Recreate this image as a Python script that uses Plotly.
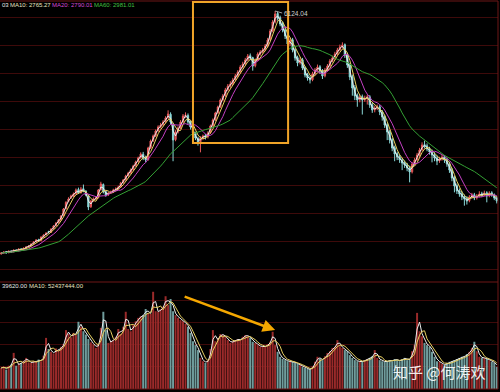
import plotly.graph_objects as go
import pandas as pd

# ---- price candles (index points), one candle ~ 2.5 sessions of the original ----
opens = [1750,1770,1790,1772,1800,1790,1820,1808,1842,1826,
         1860,1878,1898,1934,1970,2006,1990,2060,2098,2150,
         2140,2204,2258,2312,2366,2440,2570,2700,2765,2790,
         2836,2910,2852,2925,2880,2800,2600,2710,2746,2764,
         2908,3000,2870,2815,2852,2870,2906,2924,2960,3032,
         3088,3160,3212,3268,3340,3410,3484,3545,3470,3448,
         3665,3790,3880,3970,4040,4078,4132,4204,4265,4080,
         3810,3950,4024,4130,4240,4245,4120,4030,3920,3830,
         3770,3844,3880,3860,3934,4060,4168,4294,4400,4528,
         4600,4708,4780,4815,4888,4960,5030,5122,5176,5248,
         5320,5284,5140,5248,5356,5390,5428,5500,5608,5770,
         5930,6080,6005,5895,5786,5680,5535,5606,5428,5284,
         5192,5246,5104,4978,4922,4886,4994,5068,5120,5050,
         4958,5068,5140,5230,5284,5356,5428,5482,5518,5338,
         5158,4942,4744,4600,4526,4582,4526,4562,4580,4438,
         4346,4382,4400,4310,4220,4078,3950,3808,3664,3556,
         3500,3446,3392,3356,3302,3230,3374,3446,3536,3626,
         3718,3698,3644,3590,3536,3482,3428,3464,3500,3446,
         3374,3266,3122,2980,2890,2836,2782,2746,2710,2780,
         2816,2762,2798,2834,2816,2852,2798,2852,2816,2762]
highs = [1780,1795,1802,1812,1815,1830,1834,1852,1856,1866,
         1888,1905,1942,1980,2018,2024,2066,2105,2140,2168,
         2212,2270,2322,2380,2450,2578,2700,2772,2818,2856,
         2930,2945,2958,3000,2900,2820,2720,2768,2790,2920,
         3050,3020,2895,2870,2890,2925,2950,2980,3048,3100,
         3176,3230,3290,3356,3430,3502,3580,3588,3520,3680,
         3810,3900,3990,4066,4110,4160,4230,4336,4300,4110,
         3980,4050,4160,4270,4300,4280,4150,4060,3950,3860,
         3870,3900,3910,3960,4080,4190,4310,4420,4550,4630,
         4740,4810,4860,4920,4990,5060,5150,5210,5280,5350,
         5360,5300,5270,5380,5420,5460,5530,5640,5800,5960,
         6124.04,6110,6040,5930,5820,5720,5650,5640,5460,5320,
         5290,5280,5130,5010,4960,5030,5100,5160,5150,5080,
         5100,5170,5260,5320,5390,5460,5520,5560,5540,5370,
         5190,4980,4790,4640,4620,4620,4600,4620,4610,4470,
         4420,4440,4430,4340,4250,4110,3980,3840,3700,3590,
         3540,3480,3430,3390,3340,3400,3480,3570,3660,3760,
         3790,3740,3680,3630,3580,3520,3500,3540,3530,3480,
         3410,3300,3160,3020,2930,2880,2820,2790,2810,2850,
         2850,2830,2880,2870,2890,2880,2880,2880,2840,2790]
lows = [1742,1762,1760,1765,1778,1782,1796,1800,1812,1818,
        1850,1868,1888,1922,1960,1970,1980,2046,2085,2120,
        2128,2190,2244,2298,2350,2428,2552,2680,2740,2772,
        2818,2830,2838,2862,2790,2540,2580,2690,2722,2750,
        2890,2840,2780,2796,2830,2852,2884,2906,2944,3016,
        3070,3140,3194,3248,3320,3392,3466,3440,3400,3430,
        3640,3766,3856,3944,4010,4050,4106,4180,4080,3420,
        3780,3920,4000,4104,4200,4090,3990,3890,3800,3700,
        3580,3800,3810,3830,3910,4036,4140,4270,4380,4500,
        4570,4680,4740,4790,4860,4930,5000,5090,5150,5220,
        5240,5050,5110,5220,5320,5360,5400,5470,5580,5740,
        5900,5950,5850,5740,5620,5420,5490,5380,5230,5130,
        5160,5060,4930,4870,4820,4860,4960,5040,4990,4900,
        4930,5040,5110,5200,5250,5320,5400,5450,5280,5100,
        4880,4600,4520,4400,4480,4260,4490,4440,4380,4290,
        4300,4340,4250,4150,4020,3800,3740,3600,3420,3440,
        3390,3260,3300,3240,3040,3200,3340,3420,3500,3600,
        3650,3600,3540,3400,3420,3350,3390,3430,3390,3320,
        3210,3060,2860,2830,2780,2720,2620,2640,2680,2750,
        2720,2730,2770,2780,2790,2680,2770,2780,2720,2660]
closes = [1768,1786,1768,1804,1786,1822,1804,1840,1822,1858,
          1876,1894,1930,1966,2002,1984,2056,2092,2128,2146,
          2200,2254,2308,2362,2434,2560,2680,2740,2794,2830,
          2902,2848,2920,2884,2812,2596,2704,2740,2758,2902,
          3010,2866,2812,2848,2866,2902,2920,2956,3028,3082,
          3154,3208,3262,3334,3406,3478,3550,3478,3442,3658,
          3784,3874,3964,4036,4072,4126,4198,4270,4126,3802,
          3946,4018,4126,4234,4252,4126,4036,3928,3838,3766,
          3838,3874,3856,3928,4054,4162,4288,4396,4522,4594,
          4702,4774,4810,4882,4954,5026,5116,5170,5242,5314,
          5278,5134,5242,5350,5386,5422,5494,5602,5764,5926,
          6070,5998,5890,5782,5674,5530,5602,5422,5278,5188,
          5242,5098,4972,4918,4882,4990,5062,5116,5044,4954,
          5062,5134,5224,5278,5350,5422,5476,5512,5332,5152,
          4936,4738,4594,4522,4576,4522,4558,4576,4432,4342,
          4378,4396,4306,4216,4072,3946,3802,3658,3550,3496,
          3442,3388,3352,3298,3226,3370,3442,3532,3622,3712,
          3694,3640,3586,3532,3478,3424,3460,3496,3442,3370,
          3262,3118,2974,2884,2830,2776,2740,2704,2776,2812,
          2758,2794,2830,2812,2848,2794,2848,2812,2758,2704]
# volume, millions of shares
volumes = [38,40,35,42,44,65,42,46,47,51,
           56,48,47,50,49,53,50,60,92,72,
           67,64,73,70,76,81,106,99,93,101,
           97,121,112,104,98,90,84,80,74,81,
           110,139,106,83,86,88,94,108,99,112,
           139,108,104,115,122,128,131,133,144,137,
           135,175,140,139,144,148,167,151,162,140,
           133,128,124,122,117,112,101,86,79,70,
           56,50,47,52,72,106,86,92,99,97,
           94,88,83,86,88,90,88,94,97,95,
           92,85,83,79,76,77,76,81,85,103,
           79,67,58,54,52,50,49,49,47,45,
           43,40,38,36,34,41,49,58,54,52,
           59,65,68,74,76,88,77,74,70,68,
           61,56,52,50,49,50,52,54,56,59,
           70,56,52,50,49,50,52,50,54,52,
           50,54,56,52,54,68,79,137,104,95,
           83,79,76,67,58,50,49,45,43,47,
           49,50,52,54,56,58,58,63,67,74,
           85,68,58,56,56,54,52,49,47,40]

assert len(opens) == len(highs) == len(lows) == len(closes) == len(volumes) == 200

# header labels (as shown on the chart)
price_labels = [("03", "#e6e6e6", 0), ("MA10: 2765.27", "#e8e2c0", 8),
                ("MA20: 2790.01", "#d448d4", 50), ("MA60: 2981.01", "#40c040", 92)]
vol_labels = [("39620.00", "#e6e6e6", 0), ("MA10: 52437444.00", "#e8e2c0", 27)]

# moving averages: each candle ~2.5 sessions, so MA5/10/20/60 -> 2/4/8/24 candles
price_mas = [(2, "#ececec"), (4, "#e8d060"), (8, "#c440c4"), (24, "#34a034")]
vol_mas = [(2, "#ececec"), (4, "#e8d060")]

idx = list(range(len(closes)))
cs = pd.Series(closes, dtype=float)
vs = pd.Series(volumes, dtype=float)

fig = go.Figure()
fig.add_trace(go.Candlestick(
    x=idx, open=opens, high=highs, low=lows, close=closes,
    increasing=dict(line=dict(color="#e85a5a", width=1), fillcolor="#c84848"),
    decreasing=dict(line=dict(color="#8ad8d8", width=1), fillcolor="#8ad8d8"),
    whiskerwidth=0, xaxis="x", yaxis="y", hoverinfo="skip"))
for w, col in price_mas:
    fig.add_trace(go.Scatter(x=idx, y=cs.rolling(w, min_periods=1).mean(), mode="lines",
                             line=dict(color=col, width=1), xaxis="x", yaxis="y"))

vcolors = ["#9a2a2a" if c >= o else "#6f9c9c" for o, c in zip(opens, closes)]
fig.add_trace(go.Bar(x=idx, y=volumes, marker=dict(color=vcolors, line=dict(width=0)),
                     xaxis="x2", yaxis="y2"))
for w, col in vol_mas:
    fig.add_trace(go.Scatter(x=idx, y=vs.rolling(w, min_periods=1).mean(), mode="lines",
                             line=dict(color=col, width=1), xaxis="x2", yaxis="y2"))

W, H = 500, 392
ML, MR, MT, MB = 0, 2, 1, 3
pw, ph = W - ML - MR, H - MT - MB
def px_x(p):
    return (p - ML) / pw
def px_y(p):
    return (H - MB - p) / ph

price_bottom = px_y(282)
vol_top = px_y(284)
xr = [-0.5, len(closes) - 0.5]

fig.update_layout(
    width=W, height=H, margin=dict(l=ML, r=MR, t=MT, b=MB),
    paper_bgcolor="black", plot_bgcolor="black", showlegend=False, bargap=0.2,
    xaxis=dict(domain=[0, 1], range=xr, anchor="y", showticklabels=False, showgrid=False,
               zeroline=False, rangeslider=dict(visible=False), fixedrange=True),
    xaxis2=dict(domain=[0, 1], range=xr, anchor="y2", showticklabels=False, showgrid=False,
                zeroline=False),
    yaxis=dict(domain=[price_bottom, 1], range=[1246, 6304], showticklabels=False,
               showgrid=True, gridcolor="#3e0a0a", gridwidth=1, tick0=6016, dtick=504,
               zeroline=False),
    yaxis2=dict(domain=[0, vol_top], range=[0, 189], showticklabels=False,
                showgrid=True, gridcolor="#3e0a0a", gridwidth=1, tick0=0, dtick=40,
                zeroline=False),
)

border = "#6e1616"
shapes = [
    dict(type="line", xref="paper", yref="paper", x0=0, x1=1, y0=1, y1=1, line=dict(color=border, width=1)),
    dict(type="line", xref="paper", yref="paper", x0=0, x1=1, y0=price_bottom, y1=price_bottom, line=dict(color=border, width=1)),
    dict(type="line", xref="paper", yref="paper", x0=0, x1=1, y0=0, y1=0, line=dict(color=border, width=1)),
    dict(type="line", xref="paper", yref="paper", x0=1, x1=1, y0=0, y1=1, line=dict(color=border, width=1)),
    # highlighted rally box
    dict(type="rect", xref="x", yref="y", x0=77, x1=115.2, y0=3748, y1=6286,
         line=dict(color="#f0a428", width=2), fillcolor="rgba(0,0,0,0)"),
]
fig.update_layout(shapes=shapes)

annotations = []
for txt, col, px in price_labels:
    annotations.append(dict(xref="paper", yref="paper", x=px_x(px), y=px_y(5), text=txt,
                            showarrow=False, xanchor="left", yanchor="middle",
                            font=dict(size=6, color=col, family="Liberation Sans, Arial")))
for txt, col, px in vol_labels:
    annotations.append(dict(xref="paper", yref="paper", x=px_x(px), y=px_y(286), text=txt,
                            showarrow=False, xanchor="left", yanchor="middle",
                            font=dict(size=6, color=col, family="Liberation Sans, Arial")))
peak_i = max(idx, key=lambda i: highs[i])
annotations.append(dict(xref="x", yref="y", x=peak_i, y=highs[peak_i], text="%.2f" % highs[peak_i],
                        showarrow=True, arrowhead=0, arrowwidth=0.8, arrowcolor="#c8c8c8",
                        ax=7, ay=2, xanchor="left", yanchor="middle",
                        font=dict(size=6.5, color="#d0d0d0", family="Liberation Sans, Arial")))
annotations.append(dict(xref="x2", yref="y2", x=peak_i, y=106, text="", showarrow=True,
                        arrowhead=2, arrowsize=1, arrowwidth=2.5, arrowcolor="#f5a800",
                        ax=-92, ay=-34))
annotations.append(dict(xref="paper", yref="paper", x=px_x(439), y=px_y(371), text="知乎 @何涛欢",
                        showarrow=False, xanchor="center", yanchor="middle",
                        font=dict(size=15, color="rgba(255,255,255,0.92)", family="Noto Sans CJK SC")))
fig.update_layout(annotations=annotations)

fig.write_html("out.html", config={"displayModeBar": False, "staticPlot": True},
               post_script="document.body.style.margin='0';document.body.style.background='black';")
